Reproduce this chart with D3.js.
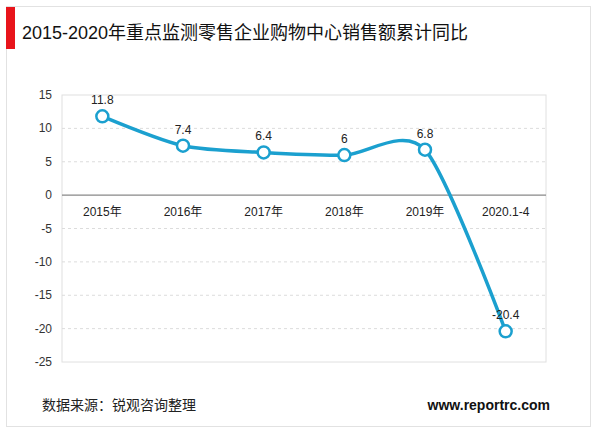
<!DOCTYPE html>
<html><head><meta charset="utf-8">
<script src="https://cdn.jsdelivr.net/npm/d3@7"></script>
<style>body{margin:0;background:#fff}text{font-family:Arial,"Liberation Sans","Noto Sans CJK SC",sans-serif}</style>
</head><body><svg width="600" height="433"></svg>
<script>
// data
let categories = ['2015年','2016年','2017年','2018年','2019年','2020.1-4'];
let values = [11.8, 7.4, 6.4, 6, 6.8, -20.4];
let yTicks = [15, 10, 5, 0, -5, -10, -15, -20, -25];

let svg = d3.select('svg');
let plotLeft = 62, plotRight = 546, plotTop = 95, plotBottom = 362;

// outer frame and title
svg.append('rect').attr('x', 6.5).attr('y', 6.5).attr('width', 584).attr('height', 420)
  .style('fill', 'none').style('stroke', '#e2e2e2');
svg.append('rect').attr('x', 6).attr('y', 7).attr('width', 9).attr('height', 42).style('fill', '#e8141b');
svg.append('text').attr('x', 22).attr('y', 39).style('font-size', '18px').style('fill', '#111')
  .text('2015-2020年重点监测零售企业购物中心销售额累计同比');

let x = d3.scaleBand().domain(categories).range([plotLeft, plotRight]);
let y = d3.scaleLinear().domain([-25, 15]).range([plotBottom, plotTop]);

// plot box
svg.append('rect').attr('x', plotLeft).attr('y', plotTop).attr('width', plotRight - plotLeft).attr('height', plotBottom - plotTop)
  .style('fill', 'none').style('stroke', '#e0e0e0');

// gridlines
svg.selectAll('line.grid').data(yTicks.filter(d => d != 0 && d != 15 && d != -25)).enter().append('line')
  .attr('x1', plotLeft).attr('x2', plotRight).attr('y1', d => y(d)).attr('y2', d => y(d))
  .style('stroke', '#dcdcdc').style('stroke-dasharray', '3,3');
svg.append('line').attr('x1', plotLeft).attr('x2', plotRight).attr('y1', y(0)).attr('y2', y(0))
  .style('stroke', '#888').style('stroke-width', 1.2);

// y labels
svg.selectAll('text.yl').data(yTicks).enter().append('text')
  .attr('x', 52).attr('y', d => y(d) + 4).attr('text-anchor', 'end')
  .style('font-size', '12px').style('fill', '#333').text(d => d);

// x labels
svg.selectAll('text.xl').data(categories).enter().append('text')
  .attr('x', d => x(d) + x.bandwidth() / 2).attr('y', y(0) + 21).attr('text-anchor', 'middle')
  .style('font-size', '12px').style('fill', '#222').text(d => d);

let pts = categories.map((c, i) => [x(c) + x.bandwidth() / 2, y(values[i])]);

svg.append('path').attr('d', d3.line().curve(d3.curveCardinal.tension(0.2))(pts))
  .style('fill', 'none').style('stroke', '#1ba0cf').style('stroke-width', 3.5);

svg.selectAll('circle').data(pts).enter().append('circle')
  .attr('cx', d => d[0]).attr('cy', d => d[1]).attr('r', 6)
  .style('fill', '#fff').style('stroke', '#1ba0cf').style('stroke-width', 2.5);

svg.selectAll('text.vl').data(values).enter().append('text')
  .attr('x', (d, i) => pts[i][0]).attr('y', (d, i) => pts[i][1] - 12).attr('text-anchor', 'middle')
  .style('font-size', '12px').style('fill', '#222').text(d => d);

// footer
svg.append('text').attr('x', 42).attr('y', 410).style('font-size', '14px').style('fill', '#222')
  .text('数据来源：锐观咨询整理');
svg.append('text').attr('x', 550).attr('y', 410).attr('text-anchor', 'end')
  .style('font-size', '14px').style('font-weight', 'bold').style('fill', '#111').text('www.reportrc.com');
</script></body></html>
